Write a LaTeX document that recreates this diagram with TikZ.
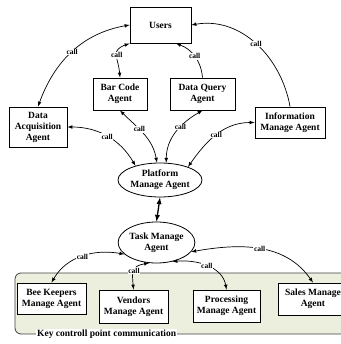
\documentclass[tikz,border=0pt]{standalone}
\usepackage{fontspec}
\setmainfont{Liberation Serif}
\usetikzlibrary{arrows,shapes.geometric}
\definecolor{keyarea}{RGB}{236,238,222}

\begin{document}
\begin{tikzpicture}[x=1pt,y=1pt,
	agent/.style={draw,line width=0.9pt,fill=white,align=center,inner sep=1pt,font=\bfseries\fontsize{9.5}{11}\selectfont},
	mgr/.style={ellipse,draw,line width=0.8pt,fill=white,align=center,inner sep=0pt,font=\bfseries\fontsize{9.5}{11}\selectfont},
	lnk/.style={latex-latex,line width=0.7pt},
	lbl/.style={fill=white,inner sep=0.6pt,font=\bfseries\fontsize{7.5}{8}\selectfont}]
				\useasboundingbox (0,0) rectangle (340,-344);
				\draw[fill=keyarea,draw=black!75,line width=0.8pt,rounded corners=6pt] (15,-273) rectangle (352,-334);
				\node[fill=white,inner sep=1pt,anchor=west,font=\bfseries\fontsize{9.5}{11}\selectfont] (key) at (36,-334) {Key controll point communication};
				\node[agent,minimum width=61pt,minimum height=36pt] (users) at (160.5,-25) {Users};
				\node[agent,minimum width=54pt,minimum height=32pt] (barcode) at (120,-94) {Bar Code\\Agent};
				\node[agent,minimum width=65pt,minimum height=32pt] (dataquery) at (202.5,-94) {Data Query\\Agent};
				\node[agent,minimum width=58pt,minimum height=40pt] (dataacq) at (38,-127) {Data\\Acquisition\\Agent};
				\node[agent,minimum width=70pt,minimum height=31pt] (info) at (290,-122.5) {Information\\Manage Agent};
				\node[mgr,minimum width=74pt,minimum height=34pt] (platform) at (160,-180) {Platform\\Manage Agent};
				\node[mgr,minimum width=67pt,minimum height=41pt] (task) at (156.5,-242.5) {Task Manage\\Agent};
				\node[agent,minimum width=69pt,minimum height=31pt] (bee) at (51.5,-298.5) {Bee Keepers\\Manage Agent};
				\node[agent,minimum width=69pt,minimum height=33pt] (vendors) at (133.5,-306.5) {Vendors\\Manage Agent};
				\node[agent,minimum width=67pt,minimum height=32pt] (processing) at (226.5,-306) {Processing\\Manage Agent};
				\node[agent,minimum width=70pt,minimum height=32pt] (sales) at (313,-299) {Sales Manage\\Agent};
				\draw[lnk] (users.west) to[out=190,in=70] node[lbl]{call} (dataacq.north);
				\draw[lnk] (users.south west) to[out=200,in=95,looseness=1.5] node[lbl]{call} (barcode.north);
				\draw[-latex,line width=0.7pt] (dataquery.north) to[out=95,in=-20] node[lbl]{call} (users.-50);
				\draw[-latex,line width=0.7pt] (info.north) to[out=100,in=10] node[lbl]{call} (users.east);
				\draw[lnk] (dataacq.east) to[out=0,in=120] node[lbl]{call} (platform.150);
				\draw[lnk] (barcode.south) to[out=-45,in=100] node[lbl,pos=0.4]{call} (platform.100);
				\draw[lnk] (dataquery.south) to[out=210,in=90] node[lbl,pos=0.4]{call} (platform.70);
				\draw[lnk] (info.west) to[out=180,in=55] node[lbl]{call} (platform.25);
				\draw[latex-latex,line width=1.3pt] (platform.south) to (task.north);
				\draw[lnk] (task.200) to[out=170,in=60] node[lbl]{call} (bee.north);
				\draw[lnk] (task.250) to[out=190,in=95,looseness=1.5] node[lbl]{call} (vendors.north);
				\draw[lnk] (task.310) to[out=5,in=100] node[lbl]{call} (processing.north);
				\draw[lnk] (task.-15) to[out=10,in=125] node[lbl]{call} (sales.north);
			\end{tikzpicture}
\end{document}
